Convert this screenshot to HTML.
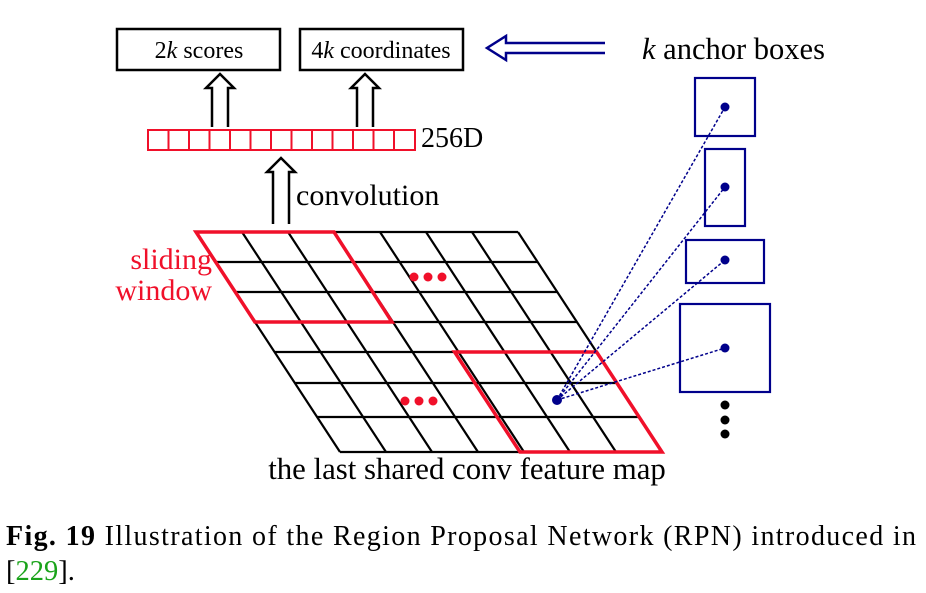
<!DOCTYPE html>
<html><head><style>
body{margin:0;background:#fff;}
svg text{font-family:"Liberation Serif",serif;}
</style></head><body>
<svg width="926" height="588" viewBox="0 0 926 588" xmlns="http://www.w3.org/2000/svg">
<rect x="117" y="29" width="163" height="41" fill="none" stroke="#000" stroke-width="2.5"/>
<text x="199" y="58" font-size="24" text-anchor="middle">2<tspan font-style="italic">k</tspan> scores</text>
<rect x="300" y="29" width="163" height="41" fill="none" stroke="#000" stroke-width="2.5"/>
<text x="381" y="58" font-size="24" text-anchor="middle">4<tspan font-style="italic">k</tspan> coordinates</text>
<path d="M605,43 H506 V36 L487,48 L506,60 V53 H605" fill="#fff" stroke="#00008b" stroke-width="2.5"/>
<text x="642" y="59" font-size="30.5"><tspan font-style="italic">k</tspan> anchor boxes</text>
<path d="M212,127 V88 H206 L220,74 L234,88 H228 V127" fill="#fff" stroke="#000" stroke-width="2.5"/>
<path d="M357,127 V88 H351 L365,74 L379,88 H373 V127" fill="#fff" stroke="#000" stroke-width="2.5"/>
<path d="M273,224 V172 H267 L281,158 L295,172 H289 V224" fill="#fff" stroke="#000" stroke-width="2.5"/>
<g fill="none" stroke="#f0102a" stroke-width="2">
<rect x="148" y="130" width="267" height="20"/>
<path d="M168.5,130v20M189,130v20M209.5,130v20M230,130v20M250.5,130v20M271,130v20M291.5,130v20M312,130v20M332.5,130v20M353,130v20M373.5,130v20M394,130v20"/>
</g>
<text x="421" y="147" font-size="28">256D</text>
<text x="296" y="205" font-size="30">convolution</text>
<text x="212" y="269" font-size="30" fill="#f0102a" text-anchor="end">sliding</text>
<text x="212" y="300" font-size="30" fill="#f0102a" text-anchor="end">window</text>
<g stroke="#000" stroke-width="2.2" fill="none">
<path d="M196,232H518 M215.6,262H537.6 M235.3,292H557.3 M254.9,322H576.9 M274.6,352H596.6 M294.9,383H616.9 M317.2,417H639.2 M340,452H662"/>
<path d="M196,232L340,452 M242,232L386,452 M288,232L432,452 M334,232L478,452 M380,232L524,452 M426,232L570,452 M472,232L616,452 M518,232L662,452"/>
</g>
<g stroke="#f0102a" stroke-width="3.5" fill="none">
<path d="M196,232H334L392,322H254.9Z"/>
<path d="M454.6,352H596.6L662,452H520Z"/>
</g>
<g fill="#f0102a"><circle cx="414" cy="277" r="4.5"/><circle cx="428" cy="277" r="4.5"/><circle cx="442" cy="277" r="4.5"/>
<circle cx="405" cy="401" r="4.5"/><circle cx="419" cy="401" r="4.5"/><circle cx="433" cy="401" r="4.5"/></g>
<g stroke="#00008b" stroke-width="2.2" fill="none">
<rect x="695" y="78" width="60" height="58"/>
<rect x="705" y="149" width="40" height="77"/>
<rect x="686" y="240" width="78" height="43"/>
<rect x="680" y="304" width="90" height="88"/>
</g>
<g stroke="#00008b" stroke-width="1.5" stroke-dasharray="3,2" fill="none">
<path d="M557,400L725,107M557,400L725,187M557,400L725,260M557,400L725,348"/>
</g>
<g fill="#00008b"><circle cx="557" cy="400" r="5"/><circle cx="725" cy="107" r="4.5"/><circle cx="725" cy="187" r="4.5"/><circle cx="725" cy="260" r="4.5"/><circle cx="725" cy="348" r="4.5"/></g>
<g fill="#000"><circle cx="725" cy="405" r="4.5"/><circle cx="725" cy="420" r="4.5"/><circle cx="725" cy="434" r="4.5"/></g>
<text x="467" y="479" font-size="30.8" text-anchor="middle">the last shared conv feature map</text>
<text x="6" y="545" font-size="28" textLength="910" lengthAdjust="spacing"><tspan font-weight="bold">Fig. 19</tspan> Illustration of the Region Proposal Network (RPN) introduced in</text>
<text x="6" y="580" font-size="28.5">[<tspan fill="#1aa31a">229</tspan>].</text>
</svg>
</body></html>
